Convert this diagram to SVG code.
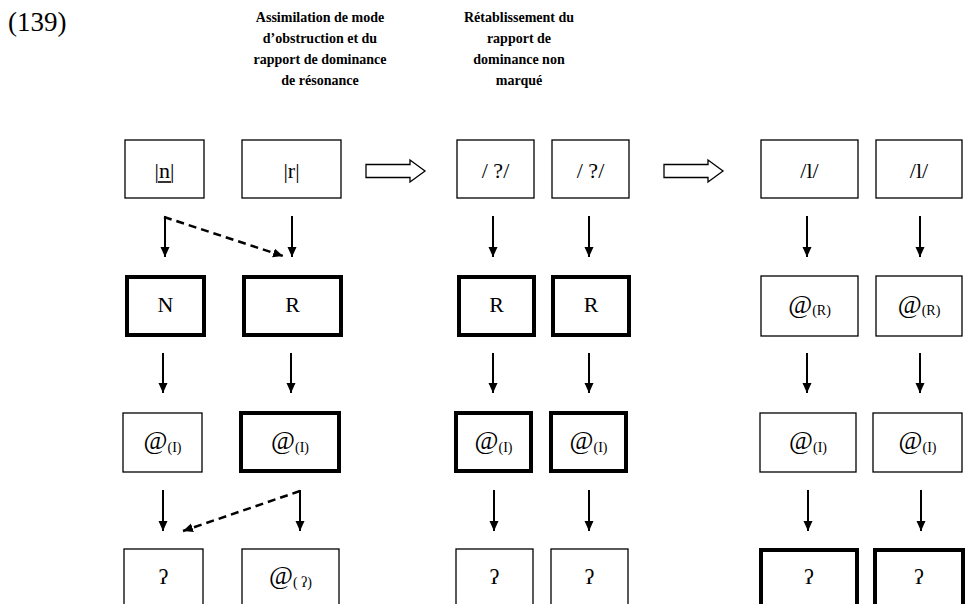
<svg xmlns="http://www.w3.org/2000/svg" width="976" height="604" viewBox="0 0 976 604">
<defs>
<style>
.b{fill:#fff;stroke:#000;stroke-width:1.3}
.k{fill:#fff;stroke:#000;stroke-width:4}
.t{font-family:"Liberation Serif","DejaVu Serif",serif;font-size:22px;fill:#000;text-anchor:middle}
.h{font-family:"Liberation Serif","DejaVu Serif",serif;font-size:14px;font-weight:bold;fill:#000;text-anchor:middle}
.a{stroke:#000;stroke-width:2;fill:none;marker-end:url(#ah)}
.d{stroke:#000;stroke-width:2.5;fill:none;stroke-dasharray:8,5;marker-end:url(#ah)}
.ho{fill:#fff;stroke:#000;stroke-width:1.3}
.at{font-size:26px}
.sb{font-size:14px}
</style>
<marker id="ah" markerUnits="userSpaceOnUse" markerWidth="12" markerHeight="10" refX="10" refY="4.5" orient="auto">
<path d="M0,0 L10,4.5 L0,9 z" fill="#000"/>
</marker>
</defs>
<rect width="976" height="604" fill="#fff"/>
<text x="8" y="31" style="font-family:'Liberation Serif',serif;font-size:27px">(139)</text>
<g id="title1">
<text class="h" x="320" y="22">Assimilation de mode</text>
<text class="h" x="320" y="43">d’obstruction et du</text>
<text class="h" x="320" y="64">rapport de dominance</text>
<text class="h" x="320" y="85">de résonance</text>
</g>
<g id="title2">
<text class="h" x="519" y="22">Rétablissement du</text>
<text class="h" x="519" y="43">rapport de</text>
<text class="h" x="519" y="64">dominance non</text>
<text class="h" x="519" y="85">marqué</text>
</g>
<g id="connectors">
<path class="ho" d="M366,164.5 H410 V160 L425,171 L410,182 V177.5 H366 Z"/>
<path class="ho" d="M664,164.5 H708 V160 L723,171 L708,182 V177.5 H664 Z"/>
<line class="a" x1="165" y1="216" x2="165" y2="257"/>
<line class="a" x1="292" y1="216" x2="292" y2="257"/>
<line class="a" x1="493" y1="216" x2="493" y2="257"/>
<line class="a" x1="589" y1="216" x2="589" y2="257"/>
<line class="a" x1="807" y1="216" x2="807" y2="257"/>
<line class="a" x1="920" y1="216" x2="920" y2="257"/>
<line class="a" x1="163" y1="353" x2="163" y2="393"/>
<line class="a" x1="291" y1="353" x2="291" y2="393"/>
<line class="a" x1="493" y1="353" x2="493" y2="393"/>
<line class="a" x1="589" y1="353" x2="589" y2="393"/>
<line class="a" x1="807" y1="353" x2="807" y2="393"/>
<line class="a" x1="920" y1="353" x2="920" y2="393"/>
<line class="a" x1="163" y1="490" x2="163" y2="531"/>
<line class="a" x1="300" y1="490" x2="300" y2="531"/>
<line class="a" x1="494" y1="490" x2="494" y2="531"/>
<line class="a" x1="589" y1="490" x2="589" y2="531"/>
<line class="a" x1="808" y1="490" x2="808" y2="531"/>
<line class="a" x1="921" y1="490" x2="921" y2="531"/>
<path class="d" d="M164,217 L283,256"/>
<path class="d" d="M300,491 L183,531"/>
</g>
<g id="n1a"><rect class="b" x="125" y="140" width="79" height="58"/><text class="t" x="164.5" y="178">|n|</text><line x1="158" y1="182" x2="171" y2="182" stroke="#000" stroke-width="1.6"/></g>
<g id="n1b"><rect class="b" x="242" y="140" width="99" height="58"/><text class="t" x="291.5" y="178">|r|</text></g>
<g id="n1c"><rect class="b" x="457" y="140" width="77" height="58"/><text class="t" x="495.5" y="178">/ ?/</text></g>
<g id="n1d"><rect class="b" x="552" y="140" width="77" height="58"/><text class="t" x="590.5" y="178">/ ?/</text></g>
<g id="n1e"><rect class="b" x="761" y="140" width="97" height="58"/><text class="t" x="809.5" y="178">/l/</text></g>
<g id="n1f"><rect class="b" x="876" y="140" width="86" height="58"/><text class="t" x="919" y="178">/l/</text></g>
<g id="n2a"><rect class="k" x="127" y="277" width="77" height="58"/><text class="t" x="165.5" y="312">N</text></g>
<g id="n2b"><rect class="k" x="244" y="277" width="97" height="58"/><text class="t" x="292.5" y="312">R</text></g>
<g id="n2c"><rect class="k" x="459" y="277" width="75" height="58"/><text class="t" x="496.5" y="312">R</text></g>
<g id="n2d"><rect class="k" x="553" y="277" width="76" height="58"/><text class="t" x="591" y="312">R</text></g>
<g id="n2e"><rect class="b" x="761" y="276" width="97" height="60"/><text class="t" x="809.5" y="313"><tspan class="at">@</tspan><tspan class="sb" dy="2">(R)</tspan></text></g>
<g id="n2f"><rect class="b" x="876" y="276" width="86" height="60"/><text class="t" x="919" y="313"><tspan class="at">@</tspan><tspan class="sb" dy="2">(R)</tspan></text></g>
<g id="n3a"><rect class="b" x="123" y="413" width="79" height="59"/><text class="t" x="162.5" y="449"><tspan class="at">@</tspan><tspan class="sb" dy="3">(I)</tspan></text></g>
<g id="n3b"><rect class="k" x="241" y="413" width="98" height="58"/><text class="t" x="290" y="449"><tspan class="at">@</tspan><tspan class="sb" dy="3">(I)</tspan></text></g>
<g id="n3c"><rect class="k" x="456" y="413" width="75" height="58"/><text class="t" x="493.5" y="449"><tspan class="at">@</tspan><tspan class="sb" dy="3">(I)</tspan></text></g>
<g id="n3d"><rect class="k" x="551" y="413" width="75" height="58"/><text class="t" x="588.5" y="449"><tspan class="at">@</tspan><tspan class="sb" dy="3">(I)</tspan></text></g>
<g id="n3e"><rect class="b" x="760" y="413" width="96" height="59"/><text class="t" x="808" y="449"><tspan class="at">@</tspan><tspan class="sb" dy="3">(I)</tspan></text></g>
<g id="n3f"><rect class="b" x="873" y="413" width="89" height="59"/><text class="t" x="917.5" y="449"><tspan class="at">@</tspan><tspan class="sb" dy="3">(I)</tspan></text></g>
<g id="n4a"><rect class="b" x="124" y="549" width="79" height="80"/><text class="t" x="163.5" y="584">ʔ</text></g>
<g id="n4b"><rect class="b" x="242" y="549" width="97" height="80"/><text class="t" x="290.5" y="584"><tspan class="at">@</tspan><tspan class="sb" dy="3">( ʔ)</tspan></text></g>
<g id="n4c"><rect class="b" x="456" y="549" width="77" height="80"/><text class="t" x="494.5" y="584">ʔ</text></g>
<g id="n4d"><rect class="b" x="551" y="549" width="77" height="80"/><text class="t" x="589.5" y="584">ʔ</text></g>
<g id="n4e"><rect class="k" x="761" y="550" width="96" height="80"/><text class="t" x="809" y="584">ʔ</text></g>
<g id="n4f"><rect class="k" x="875" y="550" width="88" height="80"/><text class="t" x="919" y="584">ʔ</text></g>
</svg>
